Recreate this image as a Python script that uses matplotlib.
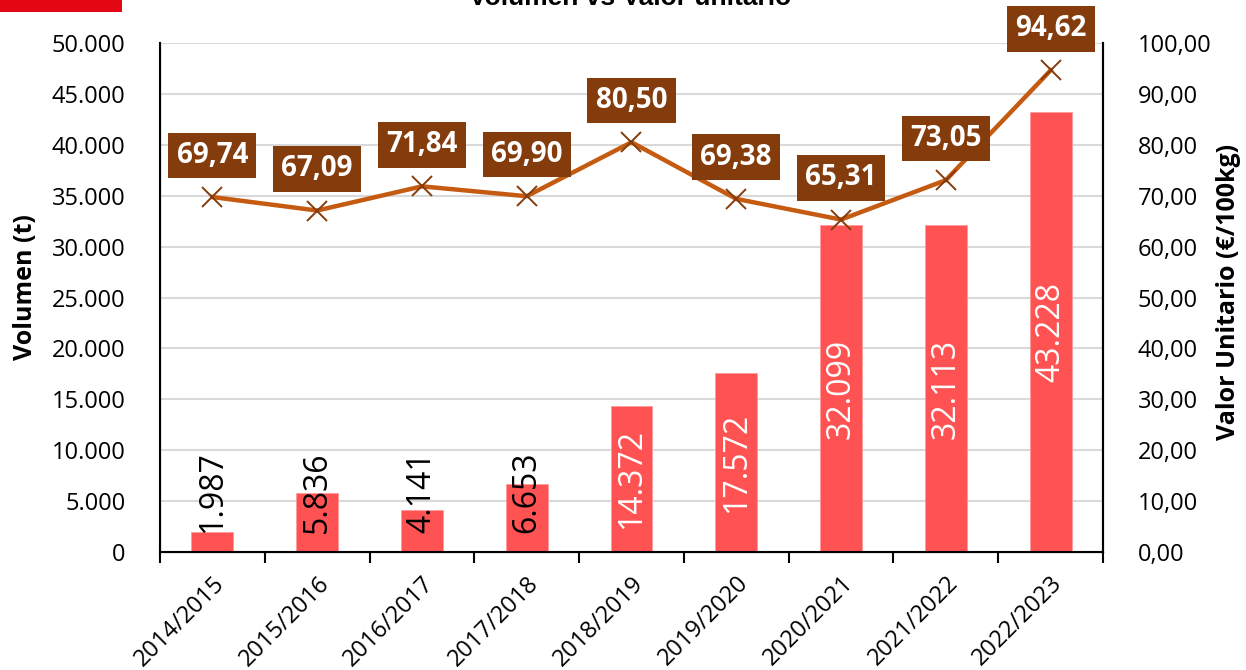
import matplotlib
matplotlib.use("Agg")
import matplotlib.pyplot as plt
import numpy as np
from matplotlib.patches import Rectangle
from matplotlib.ticker import FuncFormatter, MultipleLocator

plt.rcParams["font.family"] = ["Open Sans", "DejaVu Sans"]

campanas = ["2014/2015", "2015/2016", "2016/2017", "2017/2018", "2018/2019",
            "2019/2020", "2020/2021", "2021/2022", "2022/2023"]
volumen = [1987, 5836, 4141, 6653, 14372, 17572, 32099, 32113, 43228]
valor = [69.74, 67.09, 71.84, 69.90, 80.50, 69.38, 65.31, 73.05, 94.62]

BAR = "#FF5353"; LINE = "#C55A11"; BOX = "#843C0C"; GRID = "#D9D9D9"

fig = plt.figure(figsize=(12.46, 6.70), dpi=100)
ax = fig.add_axes([0.1284, 0.1761, 0.8852 - 0.1284, 0.9358 - 0.1761])
x = np.arange(len(campanas))

ax.bar(x, volumen, width=0.4, color=BAR, edgecolor="#FF9A9A", lw=0.6, zorder=2)
ax.set_ylim(0, 50000); ax.set_xlim(-0.5, len(campanas) - 0.5)
ax.yaxis.set_major_locator(MultipleLocator(5000))
ax.yaxis.set_major_formatter(FuncFormatter(lambda v, p: f"{int(v):,}".replace(",", ".")))
ax.grid(axis="y", color=GRID, lw=1.5, zorder=0); ax.set_axisbelow(True)
ax.tick_params(axis="y", length=0, pad=25, labelsize=17)
ax.set_xticks(x)
ax.set_xticklabels(campanas, rotation=45, ha="right", rotation_mode="anchor", fontsize=17)
ax.tick_params(axis="x", which="major", length=0, pad=14)
ax.set_xticks(np.arange(len(campanas) + 1) - 0.5, minor=True)
ax.tick_params(axis="x", which="minor", length=8, width=1.5, direction="out")
ax.spines["top"].set_visible(False)
for s in ("left", "bottom", "right"): ax.spines[s].set_linewidth(1.5)
ax.set_ylabel("Volumen (t)", fontsize=18, weight="bold")
ax.yaxis.set_label_coords(-0.129, 0.52)

# etiquetas de las barras
for xi, v in zip(x, volumen):
    yc = max(v / 2, 5900)
    ax.text(xi, yc, f"{v:,}".replace(",", "."), rotation=90, ha="center", va="center",
            fontsize=23, color="white" if v > 10000 else "black", zorder=3)

ax2 = ax.twinx()
ax2.set_ylim(0, 100)
ax2.yaxis.set_major_locator(MultipleLocator(10))
ax2.yaxis.set_major_formatter(FuncFormatter(lambda v, p: f"{v:.2f}".replace(".", ",")))
ax2.tick_params(axis="y", length=0, pad=25, labelsize=17)
ax2.spines["top"].set_visible(False)
ax2.spines["right"].set_linewidth(1.5)
ax2.plot(x, valor, color=LINE, lw=3.2, zorder=4)
ax2.plot(x, valor, ls="none", marker="x", ms=15, mew=1.4, color=BOX, zorder=5)
ax2.set_ylabel("Valor Unitario (€/100kg)", fontsize=18, weight="bold", rotation=90)
ax2.yaxis.set_label_coords(1.1198, 0.51)
for xi, v in zip(x, valor):
    ax2.annotate(f"{v:.2f}".replace(".", ","), (xi, v), xytext=(0, 30), textcoords="offset points",
                 ha="center", va="center", fontsize=20, weight="bold", color="white",
                 bbox=dict(boxstyle="square,pad=0.3", fc=BOX, ec="none"), zorder=6,
                 annotation_clip=False)

fig.text(0.506, 0.9925, "Volumen vs Valor unitario", ha="center", va="baseline",
         fontsize=19, weight="bold", family=["Liberation Sans", "DejaVu Sans"])
fig.patches.append(Rectangle((0, 1 - 12 / 670), 122 / 1246, 12 / 670, transform=fig.transFigure,
                             fc="#E30613", ec="none"))

fig.savefig("out.png", dpi=100)
